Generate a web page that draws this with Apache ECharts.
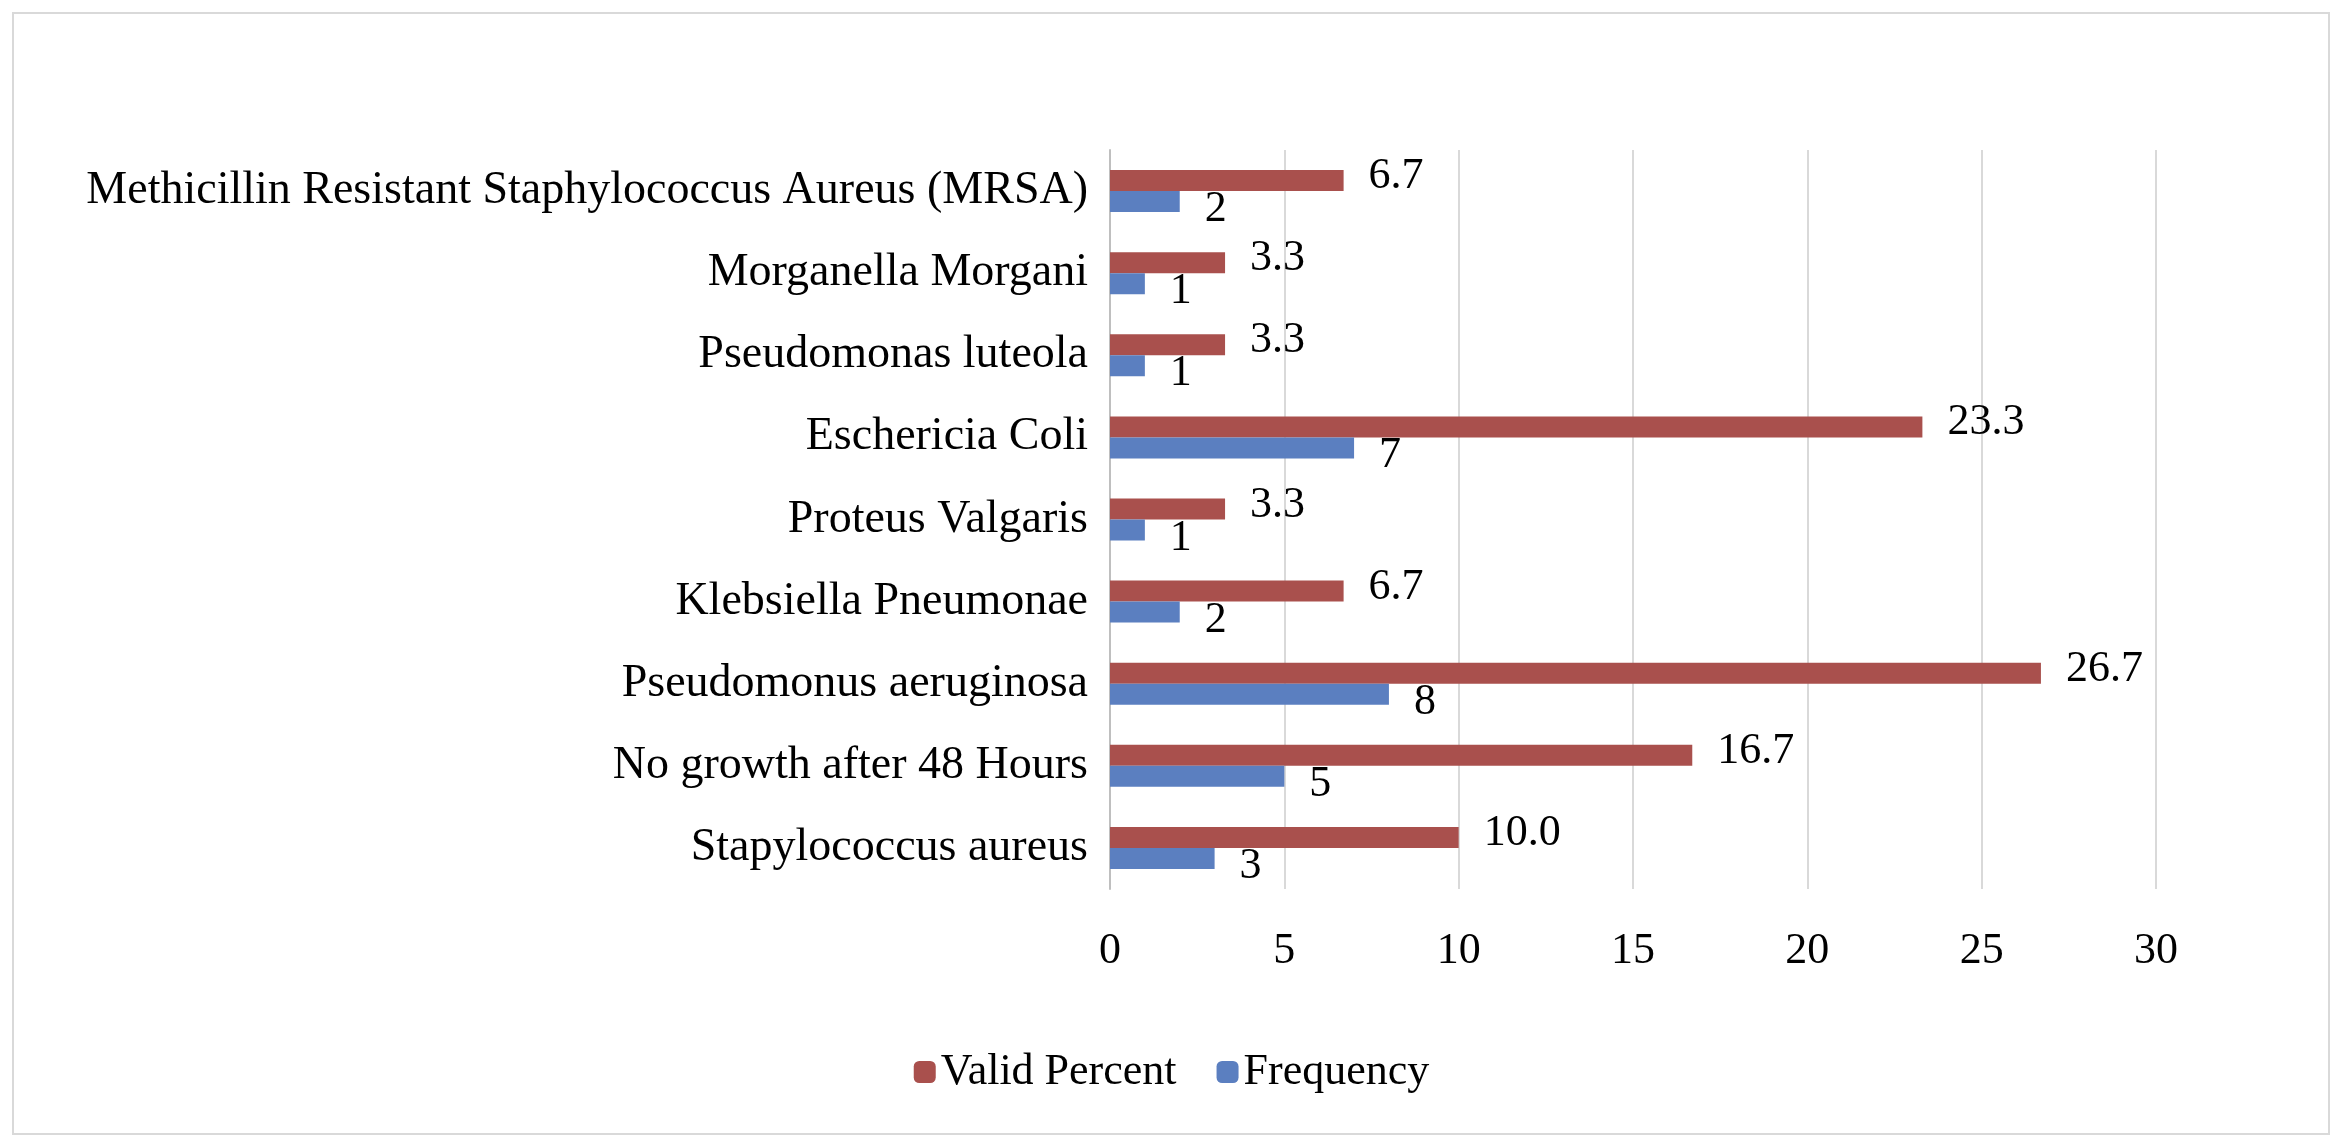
<!DOCTYPE html>
<html>
<head>
<meta charset="utf-8">
<script src="https://cdn.jsdelivr.net/npm/echarts@6/dist/echarts.min.js"></script>
<style>
html,body{margin:0;padding:0;background:#fff;}
#frame{position:absolute;left:12px;top:12px;width:2314px;height:1119px;border:2px solid #d9d9d9;}
#chart{position:absolute;left:0;top:0;width:2343px;height:1145px;}
</style>
</head>
<body>
<div id="frame"></div>
<div id="chart"></div>
<script>
var categories = ['Stapylococcus aureus', 'No growth after 48 Hours', 'Pseudomonus aeruginosa',
  'Klebsiella Pneumonae', 'Proteus Valgaris', 'Eschericia Coli', 'Pseudomonas luteola',
  'Morganella Morgani', 'Methicillin Resistant Staphylococcus Aureus (MRSA)'];
var frequency = [3, 5, 8, 2, 1, 7, 1, 1, 2];
var validPercent = [10.0, 16.7, 26.7, 6.7, 3.3, 23.3, 3.3, 3.3, 6.7];
var xTicks = [0, 5, 10, 15, 20, 25, 30];

var chart = echarts.init(document.getElementById('chart'), null, {renderer: 'canvas'});
var font = 'Liberation Serif';
chart.setOption({
  animation: false,
  textStyle: {fontFamily: font},
  grid: {left: 1110, right: 187, top: 150, bottom: 256, containLabel: false},
  legend: {
    data: ['Valid Percent', 'Frequency'],
    bottom: 46, left: 'center', itemWidth: 22, itemHeight: 22, itemGap: 40,
    textStyle: {fontFamily: font, fontSize: 44, color: '#000'}
  },
  xAxis: {
    type: 'value', min: xTicks[0], max: xTicks[xTicks.length - 1], interval: 5,
    axisLine: {show: false}, axisTick: {show: false},
    axisLabel: {fontFamily: font, fontSize: 44, color: '#000', margin: 40},
    splitLine: {lineStyle: {color: '#d9d9d9', width: 2}}
  },
  yAxis: {
    type: 'category', data: categories,
    axisLine: {lineStyle: {color: '#bfbfbf', width: 2}}, axisTick: {show: false},
    axisLabel: {fontFamily: font, fontSize: 46, color: '#000', margin: 22}
  },
  series: [
    {
      name: 'Valid Percent', type: 'bar', data: validPercent, barWidth: 21, barGap: '0%',
      itemStyle: {color: '#a9504d'},
      label: {show: true, position: 'right', offset: [20, -4], fontFamily: font, fontSize: 44, color: '#000',
        formatter: function (p) { return p.value.toFixed(1); }}
    },
    {
      name: 'Frequency', type: 'bar', data: frequency, barWidth: 21, barGap: '0%',
      itemStyle: {color: '#5b7fc0'},
      label: {show: true, position: 'right', offset: [20, 8], fontFamily: font, fontSize: 44, color: '#000'}
    }
  ]
});
</script>
</body>
</html>
